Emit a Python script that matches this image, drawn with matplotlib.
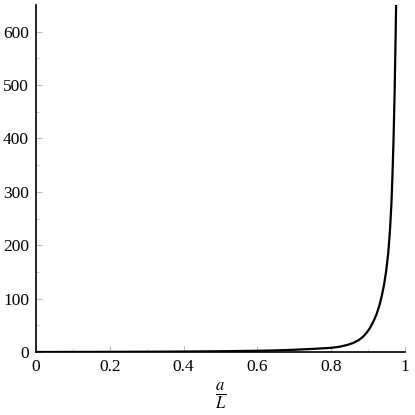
# Curve of a/L ratio against its response, redrawn from the reference
import matplotlib.pyplot as plt

# values
ratio = [0.0, 0.1, 0.2, 0.3, 0.4, 0.5, 0.6, 0.65, 0.7, 0.75, 0.8, 0.824,
         0.845, 0.86, 0.875, 0.887, 0.897, 0.905, 0.915, 0.923, 0.931,
         0.937, 0.943, 0.949, 0.9545, 0.959, 0.963, 0.966, 0.969, 0.972,
         0.9745, 0.976]
response = [0.0, 0.15, 0.3, 0.5, 0.9, 1.4, 2.3, 3.0, 4.2, 5.8, 7.8, 10.0,
            13.5, 17.0, 22.5, 29.0, 37.0, 45.0, 58.0, 71.0, 88.0,
            105.0, 125.0, 152.0, 185.0, 225.0, 275.0, 330.0, 400.0, 490.0,
            590.0, 652.0]

xticks = [0, 0.2, 0.4, 0.6, 0.8, 1]
xticklabels = ["0", "0.2", "0.4", "0.6", "0.8", "1"]
yticks = [0, 100, 200, 300, 400, 500, 600]

plt.rcParams["font.family"] = ["Liberation Serif", "DejaVu Serif"]
plt.rcParams["mathtext.fontset"] = "stix"

fig = plt.figure(figsize=(4.15, 4.15), dpi=100)
ax = fig.add_axes([36 / 415, 1 - 352 / 415, 369 / 415, 347 / 415])

ax.plot(ratio, response, color="black", linewidth=1.6, solid_capstyle="butt")

ax.set_xlim(0, 1)
ax.set_ylim(0, 650)
ax.set_xticks(xticks)
ax.set_xticklabels(xticklabels)
ax.set_yticks(yticks)
ax.set_xticks([0.1, 0.3, 0.5, 0.7, 0.9], minor=True)
ax.set_yticks([50, 150, 250, 350, 450, 550], minor=True)

for side in ["top", "right"]:
    ax.spines[side].set_visible(False)
ax.spines["left"].set_linewidth(1.2)
ax.spines["bottom"].set_linewidth(1.2)

ax.tick_params(which="both", direction="in", color="#bbbbbb", labelsize=12.5)
ax.tick_params(which="major", length=4, pad=5)
ax.tick_params(which="minor", length=2.5)

ax.set_xlabel(r"$\frac{a}{L}$", fontsize=17, labelpad=4)

fig.savefig("out.png", dpi=100)
